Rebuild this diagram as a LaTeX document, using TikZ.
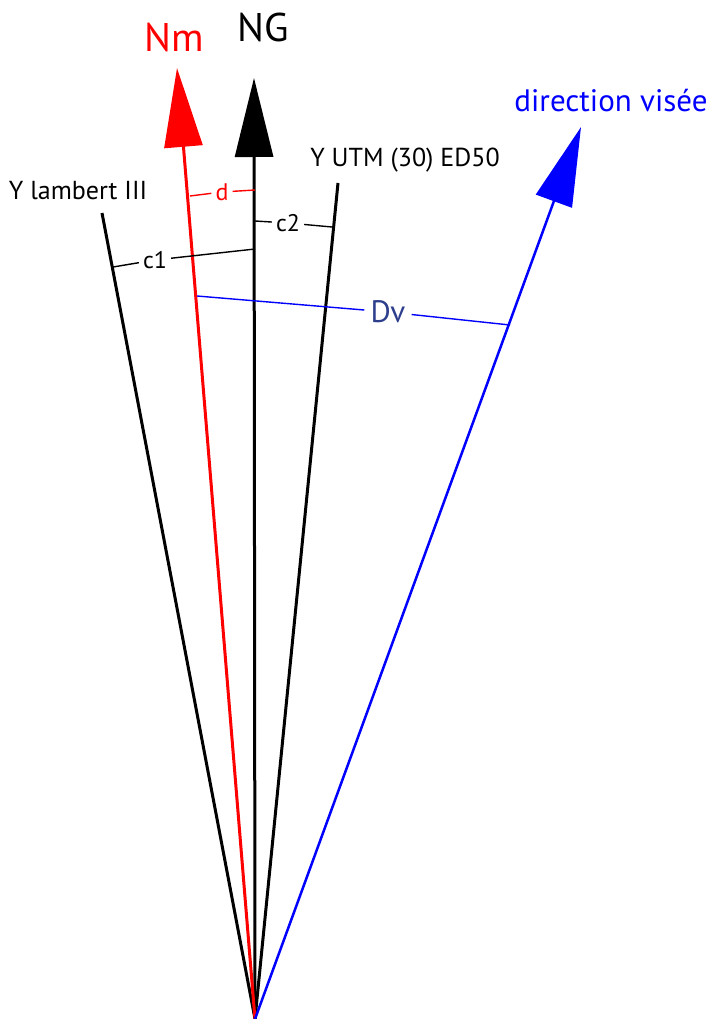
\documentclass[tikz,border=0pt]{standalone}
\usepackage{fontspec}
\setmainfont{PT Sans}
\usetikzlibrary{arrows.meta}
\definecolor{dvblue}{RGB}{45,62,140}
\tikzset{
  axis/.style={line width=3pt},
  head/.style={-{Triangle[length=79pt,width=38pt]}},
  dim/.style={line width=1.4pt},
  dimlabel/.style={inner sep=4pt,font=\fontsize{24}{24}\selectfont},
  biglabel/.style={inner sep=0pt,anchor=base,font=\fontsize{40}{40}\selectfont},
  axlabel/.style={inner sep=0pt,anchor=base,font=\fontsize{26}{26}\selectfont},
}
\begin{document}
\begin{tikzpicture}[x=1pt,y=-1pt]
\useasboundingbox (0,0) rectangle (708,1019);
% origin and ends
\coordinate (O) at (255,1019);
\coordinate (tipNm) at (177,68);
\coordinate (tipNG) at (254,78);
\coordinate (tipDV) at (581,127);
\coordinate (endL) at (102,213);
\coordinate (endU) at (338,183);
% axes
\draw[axis] (O) -- (endL);
\draw[axis] (O) -- (endU);
\draw[axis,head] (O) -- (tipNG);
\draw[axis,head,red] (O) -- (tipNm);
\draw[line width=2.5pt,head,blue] (O) -- (tipDV);
% labels
\node[biglabel,red] (lNm) at (174,52) {Nm};
\node[biglabel] (lNG) at (263,42) {NG};
\node[axlabel,blue,font=\fontsize{31}{31}\selectfont] (lDV) at (611,112) {direction visée};
\node[axlabel] (lUTM) at (405,167) {Y UTM (30) ED50};
\node[axlabel] (lL) at (78,200) {Y lambert III};
% dimension d
\coordinate (d1) at (190,196);
\coordinate (d2) at (255,190);
\node[dimlabel,red] (ld) at (222,192) {d};
\draw[dim,red] (d1) -- (ld);
\draw[dim,red] (ld) -- (d2);
% dimension c2
\coordinate (c21) at (255,221);
\coordinate (c22) at (332,227);
\node[dimlabel] (lc2) at (288,223) {c2};
\draw[dim] (c21) -- (lc2);
\draw[dim] (lc2) -- (c22);
% dimension c1
\coordinate (c11) at (113,267);
\coordinate (c12) at (255,249);
\node[dimlabel] (lc1) at (155,260) {c1};
\draw[dim] (c11) -- (lc1);
\draw[dim] (lc1) -- (c12);
% dimension Dv
\coordinate (v1) at (197,296);
\coordinate (v2) at (510,325);
\node[dimlabel,dvblue,inner sep=6pt,font=\fontsize{31}{31}\selectfont] (lDv) at (388,312) {Dv};
\draw[dim,blue] (v1) -- (lDv);
\draw[dim,blue] (lDv) -- (v2);
\end{tikzpicture}
\end{document}
